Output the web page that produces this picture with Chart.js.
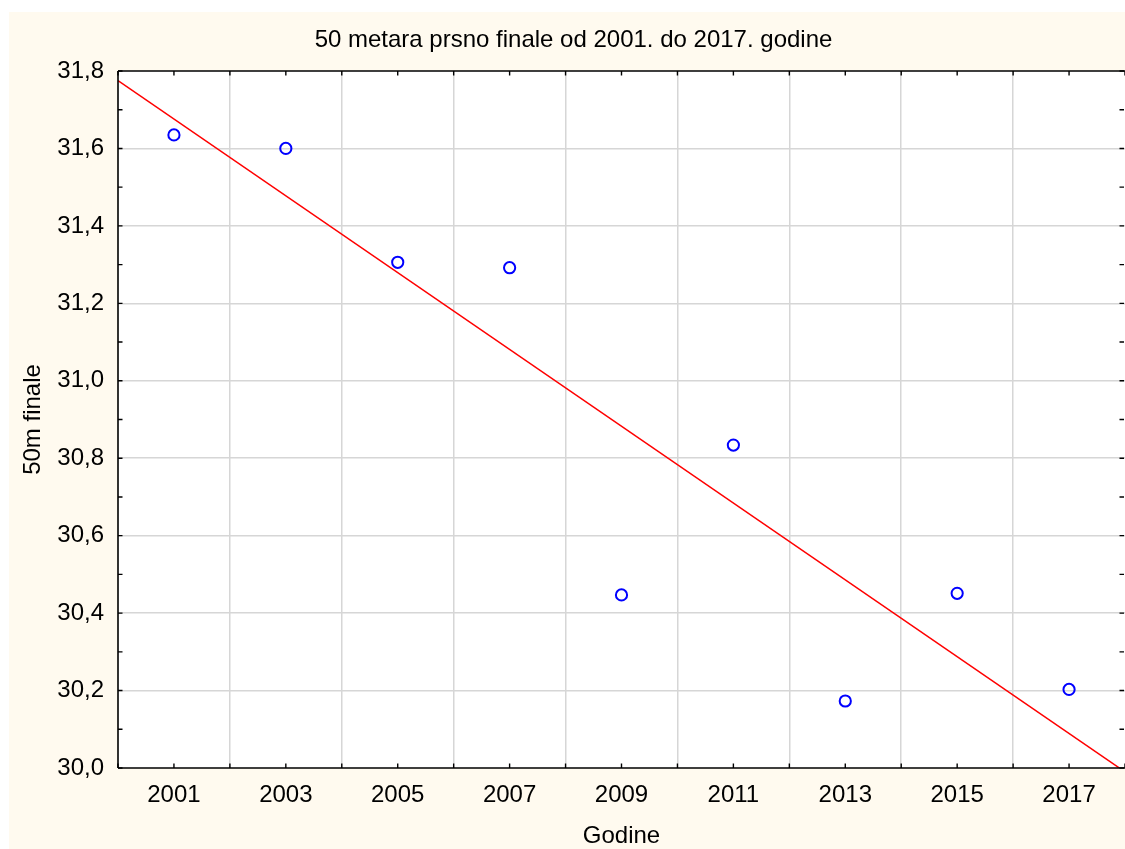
<!DOCTYPE html>
<html>
<head>
<meta charset="utf-8">
<script src="https://cdn.jsdelivr.net/npm/chart.js@4/dist/chart.umd.min.js"></script>
<style>
  html, body { margin: 0; padding: 0; background: #ffffff; }
  #wrap { width: 1125px; height: 849px; position: relative; }
  canvas { display: block; }
</style>
</head>
<body>
<div id="wrap"><canvas id="c" width="1125" height="849"></canvas></div>
<script>
// ---- Data ----
const years = [2001, 2003, 2005, 2007, 2009, 2011, 2013, 2015, 2017];
const finale50m = [31.635, 31.600, 31.306, 31.292, 30.447, 30.834, 30.173, 30.451, 30.203];
// Fitted line end points
const trendYears = [2000, 2018];
const trendValues = [31.775, 29.990];

const titleText = '50 metara prsno finale od 2001. do 2017. godine';
const xTitle = 'Godine';
const yTitle = '50m finale';

const FONT = "'Liberation Sans', Arial, sans-serif";
const FS = 24;
const CREAM = '#fffaef';
const GRID = '#d6d6d6';

const framePlugin = {
  id: 'frame',
  afterLayout(chart) {
    const t = chart.titleBlock;
    if (t) { t.left = 22; t.right = chart.width; t.width = t.right - t.left; }
  },
  beforeDraw(chart) {
    const ctx = chart.ctx;
    const a = chart.chartArea;
    ctx.save();
    ctx.fillStyle = '#ffffff';
    ctx.fillRect(0, 0, chart.width, chart.height);
    ctx.fillStyle = CREAM;
    ctx.fillRect(9, 12, chart.width - 9, chart.height - 12);
    ctx.fillStyle = '#ffffff';
    ctx.fillRect(a.left, a.top, a.right - a.left, a.bottom - a.top);
    ctx.restore();
  },
  afterDraw(chart) {
    const ctx = chart.ctx;
    const a = chart.chartArea;
    const xs = chart.scales.x, ys = chart.scales.y;
    const L = 4.5;
    ctx.save();
    ctx.strokeStyle = '#000000';
    ctx.lineWidth = 1.6;
    ctx.beginPath();
    ctx.moveTo(a.left, a.top); ctx.lineTo(a.right, a.top);
    ctx.moveTo(a.left, a.top); ctx.lineTo(a.left, a.bottom);
    ctx.moveTo(a.left, a.bottom); ctx.lineTo(a.right, a.bottom);
    ctx.stroke();
    ctx.lineWidth = 1.4;
    ctx.beginPath();
    xs.ticks.forEach(t => {
      const px = xs.getPixelForValue(t.value);
      ctx.moveTo(px, a.bottom); ctx.lineTo(px, a.bottom - L);
      ctx.moveTo(px, a.top); ctx.lineTo(px, a.top + L);
    });
    ys.ticks.forEach(t => {
      const py = ys.getPixelForValue(t.value);
      ctx.moveTo(a.left, py); ctx.lineTo(a.left + L, py);
      ctx.moveTo(a.right - 1, py); ctx.lineTo(a.right - 1 - L, py);
    });
    ctx.stroke();
    ctx.restore();
  }
};

new Chart(document.getElementById('c'), {
  type: 'scatter',
  data: {
    datasets: [
      {
        label: 'trend',
        type: 'line',
        data: trendYears.map((x, i) => ({ x: x, y: trendValues[i] })),
        borderColor: '#ff0000',
        borderWidth: 1.5,
        pointRadius: 0,
        fill: false,
        tension: 0,
        order: 2
      },
      {
        label: yTitle,
        data: years.map((x, i) => ({ x: x, y: finale50m[i] })),
        borderColor: '#0000ff',
        backgroundColor: 'rgba(0,0,0,0)',
        pointRadius: 5.6,
        pointBorderWidth: 2,
        pointHoverRadius: 5.6,
        order: 1
      }
    ]
  },
  options: {
    responsive: false,
    animation: false,
    devicePixelRatio: 1,
    layout: { autoPadding: false, padding: { left: 0, right: 0, top: 0, bottom: 0 } },
    plugins: {
      legend: { display: false },
      tooltip: { enabled: false },
      title: {
        display: true,
        text: titleText,
        color: '#000000',
        font: { family: FONT, size: FS, weight: 'normal', lineHeight: 1.2 },
        padding: { top: 25.6, bottom: 16.6 }
      }
    },
    scales: {
      x: {
        type: 'linear',
        min: 2000,
        max: 2018,
        afterFit(s) { s.height = 81; s.paddingLeft = 0; s.paddingRight = 0; },
        border: { display: false },
        grid: {
          drawTicks: false,
          lineWidth: 1.5,
          color: ctx => {
            const v = ctx.tick ? ctx.tick.value : 0;
            return (v % 2 === 0 && v > 2000 && v < 2018) ? GRID : 'rgba(0,0,0,0)';
          }
        },
        ticks: {
          stepSize: 1,
          autoSkip: false,
          maxRotation: 0,
          padding: 13,
          color: '#000000',
          font: { family: FONT, size: FS },
          callback: v => (v % 2 === 1 ? String(v) : '')
        },
        title: {
          display: true,
          text: xTitle,
          color: '#000000',
          font: { family: FONT, size: FS, lineHeight: 1.2 },
          padding: { top: 0, bottom: -2 }
        }
      },
      y: {
        type: 'linear',
        min: 30.0,
        max: 31.8,
        afterFit(s) { s.width = 118; },
        border: { display: false },
        grid: {
          drawTicks: false,
          lineWidth: 1.5,
          color: ctx => {
            const v = ctx.tick ? Math.round(ctx.tick.value * 10) : 0;
            return (v % 2 === 0 && v > 300 && v < 318) ? GRID : 'rgba(0,0,0,0)';
          }
        },
        ticks: {
          stepSize: 0.1,
          autoSkip: false,
          padding: 14,
          color: '#000000',
          font: { family: FONT, size: FS },
          callback: v => {
            const k = Math.round(v * 10);
            return k % 2 === 0 ? (k / 10).toFixed(1).replace('.', ',') : '';
          }
        },
        title: {
          display: true,
          text: yTitle,
          color: '#000000',
          font: { family: FONT, size: FS, lineHeight: 1.2 },
          padding: { top: 19, bottom: 0 }
        }
      }
    }
  },
  plugins: [framePlugin]
});
</script>
</body>
</html>
